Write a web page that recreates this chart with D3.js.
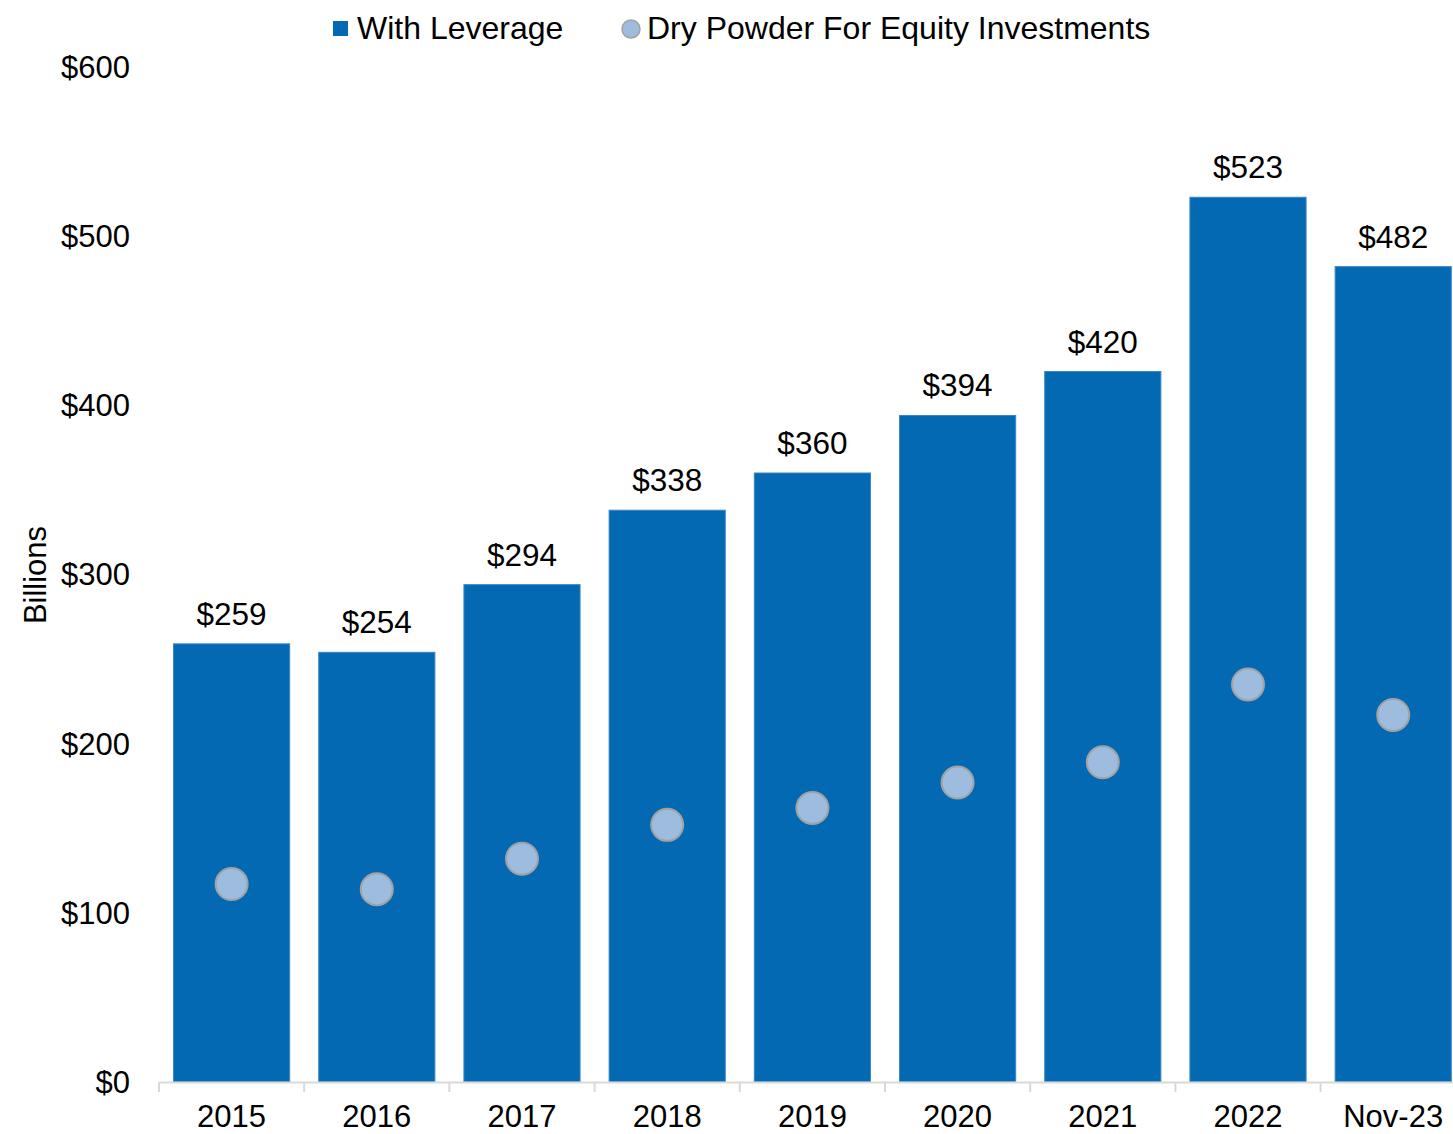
<!DOCTYPE html>
<html>
<head>
<meta charset="utf-8">
<script src="https://cdn.jsdelivr.net/npm/d3@7"></script>
<style>
  html, body { margin: 0; padding: 0; background: #ffffff; }
  svg { display: block; font-family: "Liberation Sans", Arial, sans-serif; }
</style>
</head>
<body>
<svg id="chart" width="1453" height="1134"></svg>
<script>
// Categories and series (billions of USD)
const categories = ["2015", "2016", "2017", "2018", "2019", "2020", "2021", "2022", "Nov-23"];
const withLeverage = [259, 254, 294, 338, 360, 394, 420, 523, 482];
const dryPowder = [117, 114, 132, 152, 162, 177, 189, 235, 217];
const yTicks = [0, 100, 200, 300, 400, 500, 600];
const seriesNames = ["With Leverage", "Dry Powder For Equity Investments"];

const W = 1453, H = 1134;
const barColor = "#0469b3";
const dotFill = "#9dbcde";
const dotStroke = "#a2a2a2";
const fontSize = 31;

const svg = d3.select("#chart");

const x = d3.scaleBand()
  .domain(categories)
  .range([159, 159 + 145.2 * categories.length])
  .paddingInner(0.2)
  .paddingOuter(0.1);

const y = d3.scaleLinear()
  .domain([0, 600])
  .range([1082, 67]);

// Bars
svg.append("g")
  .selectAll("rect")
  .data(categories)
  .join("rect")
  .attr("x", d => x(d))
  .attr("y", (d, i) => y(withLeverage[i]))
  .attr("width", x.bandwidth())
  .attr("height", (d, i) => y(0) - y(withLeverage[i]))
  .attr("fill", barColor)
  .attr("stroke", "#3b86c4")
  .attr("stroke-width", 1);

// Bar value labels
svg.append("g")
  .selectAll("text")
  .data(categories)
  .join("text")
  .attr("x", d => x(d) + x.bandwidth() / 2)
  .attr("y", (d, i) => y(withLeverage[i]) - 19)
  .attr("text-anchor", "middle")
  .attr("font-size", 31.5)
  .attr("fill", "#000")
  .text((d, i) => "$" + withLeverage[i]);

// Dry powder markers
svg.append("g")
  .selectAll("circle")
  .data(categories)
  .join("circle")
  .attr("cx", d => x(d) + x.bandwidth() / 2)
  .attr("cy", (d, i) => y(dryPowder[i]))
  .attr("r", 16)
  .attr("fill", dotFill)
  .attr("stroke", dotStroke)
  .attr("stroke-width", 2);

// X axis: baseline with ticks at band boundaries
const xAxis = svg.append("g");
xAxis.append("line")
  .attr("x1", x.range()[0]).attr("x2", W)
  .attr("y1", y(0) + 0.5).attr("y2", y(0) + 0.5)
  .attr("stroke", "#d9d9d9").attr("stroke-width", 2);
const bounds = d3.range(categories.length + 1).map(i => x.range()[0] + x.step() * i);
xAxis.selectAll("line.tick")
  .data(bounds)
  .join("line")
  .attr("class", "tick")
  .attr("x1", d => d).attr("x2", d => d)
  .attr("y1", y(0)).attr("y2", y(0) + 10)
  .attr("stroke", "#d9d9d9").attr("stroke-width", 2);
xAxis.selectAll("text")
  .data(categories)
  .join("text")
  .attr("x", d => x(d) + x.bandwidth() / 2)
  .attr("y", y(0) + 45)
  .attr("text-anchor", "middle")
  .attr("font-size", fontSize)
  .attr("fill", "#000")
  .text(d => d);

// Y axis labels (no axis line)
svg.append("g")
  .selectAll("text")
  .data(yTicks)
  .join("text")
  .attr("x", 130)
  .attr("y", d => y(d))
  .attr("dy", "0.35em")
  .attr("text-anchor", "end")
  .attr("font-size", fontSize)
  .attr("fill", "#000")
  .text(d => "$" + d);

// Y axis title
svg.append("text")
  .attr("transform", "translate(46,575) rotate(-90)")
  .attr("text-anchor", "middle")
  .attr("font-size", fontSize)
  .attr("fill", "#000")
  .text("Billions");

// Legend
const legend = svg.append("g");
legend.append("rect")
  .attr("x", 333).attr("y", 21).attr("width", 15).attr("height", 15)
  .attr("fill", barColor);
legend.append("text")
  .attr("x", 357).attr("y", 39)
  .attr("font-size", 32).attr("fill", "#000")
  .text(seriesNames[0]);
legend.append("circle")
  .attr("cx", 631).attr("cy", 29).attr("r", 9)
  .attr("fill", dotFill).attr("stroke", dotStroke).attr("stroke-width", 1.5);
legend.append("text")
  .attr("x", 647).attr("y", 39)
  .attr("font-size", 32).attr("fill", "#000")
  .text(seriesNames[1]);
</script>
</body>
</html>
